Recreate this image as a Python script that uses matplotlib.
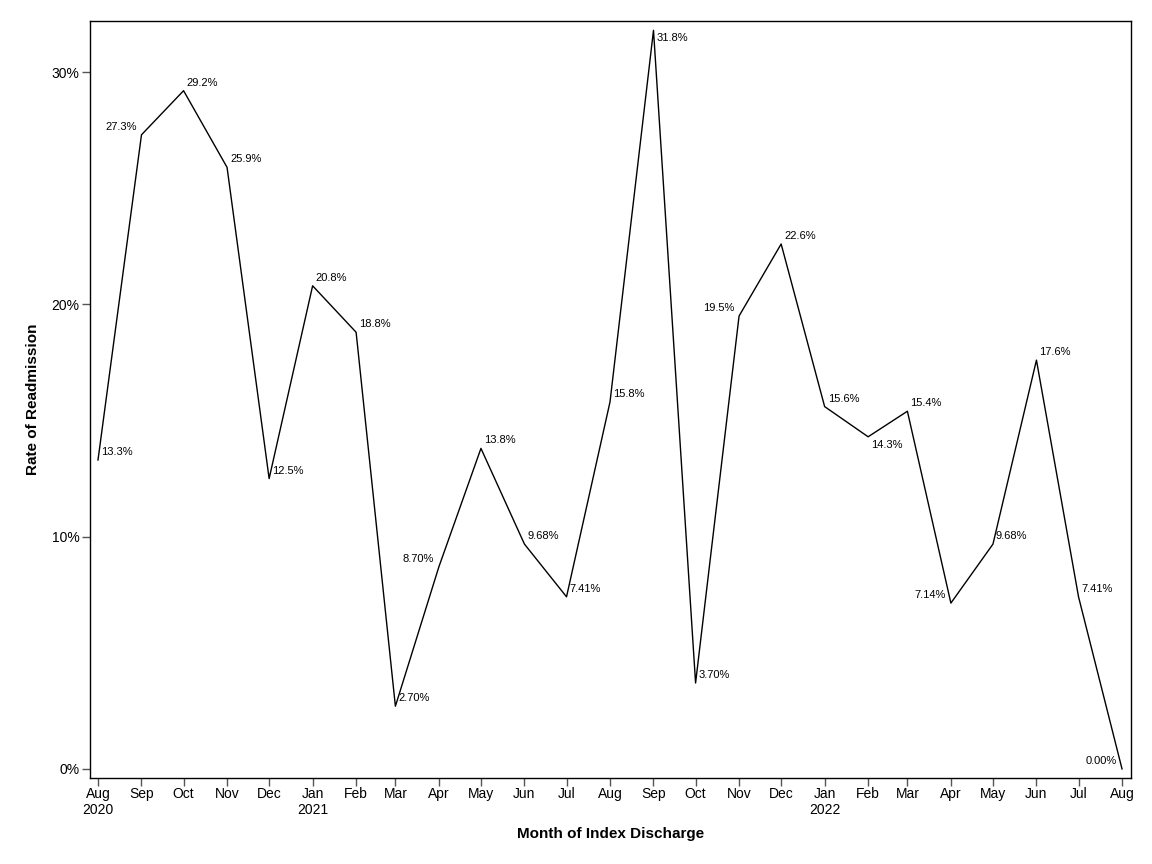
import matplotlib
matplotlib.use("Agg")
import matplotlib.pyplot as plt
import matplotlib.dates as mdates
import numpy as np
import datetime as dt

plt.rcParams['font.family'] = ['Liberation Sans', 'DejaVu Sans']

months = ["2020-08", "2020-09", "2020-10", "2020-11", "2020-12", "2021-01", "2021-02",
          "2021-03", "2021-04", "2021-05", "2021-06", "2021-07", "2021-08", "2021-09",
          "2021-10", "2021-11", "2021-12", "2022-01", "2022-02", "2022-03", "2022-04",
          "2022-05", "2022-06", "2022-07", "2022-08"]
rates = [13.3, 27.3, 29.2, 25.9, 12.5, 20.8, 18.8, 2.70, 8.70, 13.8, 9.68, 7.41, 15.8, 31.8,
         3.70, 19.5, 22.6, 15.6, 14.3, 15.4, 7.14, 9.68, 17.6, 7.41, 0.00]
point_labels = ["13.3%", "27.3%", "29.2%", "25.9%", "12.5%", "20.8%", "18.8%", "2.70%",
                "8.70%", "13.8%", "9.68%", "7.41%", "15.8%", "31.8%", "3.70%", "19.5%",
                "22.6%", "15.6%", "14.3%", "15.4%", "7.14%", "9.68%", "17.6%", "7.41%",
                "0.00%"]
# label placement: r=right, l=left; a=above, b=below
placement = ["ra", "la", "ra", "ra", "ra", "ra", "ra", "ra", "la", "ra", "ra", "ra", "ra",
             "rb", "ra", "la", "ra", "ra", "rb", "ra", "la", "ra", "ra", "ra", "la"]
tick_labels = ["Aug\n2020", "Sep", "Oct", "Nov", "Dec", "Jan\n2021", "Feb", "Mar", "Apr",
               "May", "Jun", "Jul", "Aug", "Sep", "Oct", "Nov", "Dec", "Jan\n2022", "Feb",
               "Mar", "Apr", "May", "Jun", "Jul", "Aug"]

dates = [dt.date(int(m[:4]), int(m[5:]), 1) for m in months]

fig = plt.figure(figsize=(11.52, 8.64), dpi=100)
ax = fig.add_axes([90/1152, 86/864, (1131-90)/1152, (778-21)/864])

ax.plot(dates, rates, color='black', lw=1.0)

for d, v, lab, p in zip(dates, rates, point_labels, placement):
    if p[0] == 'r':
        dx, ha = 3, 'left'
    else:
        dx, ha = -5, 'right'
    dy = 8 if p[1] == 'a' else -8
    ax.annotate(lab, (mdates.date2num(d), v), xytext=(dx, dy), textcoords='offset pixels',
                ha=ha, va='center', fontsize=8, color='black')

ax.set_xlim(mdates.date2num(dates[0]) - 5.7, mdates.date2num(dates[-1]) + 6.4)
ax.set_ylim(-0.39, 32.2)
ax.set_xticks([mdates.date2num(d) for d in dates])
ax.set_xticklabels(tick_labels, fontsize=10, linespacing=1.2)
ax.set_yticks([0, 10, 20, 30])
ax.set_yticklabels(["0%", "10%", "20%", "30%"], fontsize=10)
ax.tick_params(axis='both', direction='out', length=6, width=1, color='#555555')
ax.tick_params(axis='x', pad=0.5)
ax.tick_params(axis='y', pad=1.5)

for s in ax.spines.values():
    s.set_linewidth(1.0)

ax.set_xlabel("Month of Index Discharge", fontsize=11, fontweight='bold', labelpad=7)
ax.set_ylabel("Rate of Readmission", fontsize=11, fontweight='bold', labelpad=8)

fig.savefig("out.png", dpi=100)
